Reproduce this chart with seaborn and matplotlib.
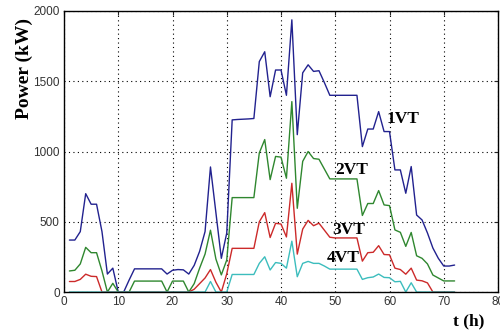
import numpy as np
import pandas as pd
import matplotlib
matplotlib.use("Agg")
import matplotlib.pyplot as plt
import seaborn as sns

# ---- data ----
hours = list(range(1, 73))

p_1vt = [370, 370, 430, 700, 625, 625, 430, 128, 170, 0,
         0, 85, 165, 165, 165, 165, 165, 165, 128, 155,
         160, 158, 128, 190, 290, 430, 890, 565, 240, 420,
         1225, 1228, 1230, 1232, 1235, 1640, 1710, 1390, 1580, 1580,
         1400, 1937, 1120, 1560, 1617, 1570, 1575, 1490, 1400, 1400,
         1400, 1400, 1400, 1400, 1035, 1160, 1160, 1284, 1142, 1142,
         869, 869, 703, 893, 548, 513, 420, 313, 240, 185,
         185, 192]

p_2vt = [150, 155, 200, 318, 280, 280, 150, 0, 62, 0,
         0, 0, 78, 78, 78, 78, 78, 78, 0, 78,
         78, 78, 0, 60, 170, 270, 440, 235, 122, 228,
         672, 672, 672, 672, 672, 990, 1085, 800, 965, 960,
         810, 1355, 596, 930, 1000, 950, 945, 875, 805, 805,
         805, 805, 805, 805, 545, 630, 630, 722, 620, 615,
         442, 425, 325, 424, 258, 240, 200, 121, 100, 79,
         79, 79]

p_3vt = [75, 75, 90, 127, 112, 110, 0, 0, 0, 0,
         0, 0, 0, 0, 0, 0, 0, 0, 0, 0,
         0, 0, 0, 20, 60, 100, 160, 70, 0, 130,
         311, 311, 311, 311, 311, 500, 565, 388, 489, 484,
         392, 774, 270, 448, 510, 472, 490, 440, 390, 385,
         385, 385, 385, 385, 220, 280, 283, 330, 267, 265,
         170, 160, 127, 170, 85, 80, 65, 0, 0, 0,
         0, 0]

p_4vt = [0, 0, 0, 0, 0, 0, 0, 0, 0, 0,
         0, 0, 0, 0, 0, 0, 0, 0, 0, 0,
         0, 0, 0, 0, 0, 0, 75, 0, 0, 0,
         125, 125, 125, 125, 125, 204, 251, 157, 210, 204,
         170, 362, 109, 204, 218, 204, 204, 185, 163, 163,
         163, 163, 163, 163, 90, 102, 107, 128, 104, 102,
         73, 76, 0, 66, 0, 0, 0, 0, 0, 0,
         0, 0]

series_names = ["1VT", "2VT", "3VT", "4VT"]
x_ticks = [0, 10, 20, 30, 40, 50, 60, 70, 80]
y_ticks = [0, 500, 1000, 1500, 2000]

df = pd.DataFrame({
    "t": hours * 4,
    "P": p_1vt + p_2vt + p_3vt + p_4vt,
    "series": sum([[n] * len(hours) for n in series_names], []),
})

palette = {"1VT": "#22228f", "2VT": "#2f872f", "3VT": "#cc2a2a", "4VT": "#3cbdbd"}

sns.set_style("white")
fig = plt.figure(figsize=(5.0, 3.33), dpi=100)
ax = fig.add_axes([0.128, 0.123, 0.868, 0.844])

sns.lineplot(data=df, x="t", y="P", hue="series", palette=palette,
             linewidth=1.0, legend=False, ax=ax, estimator=None, sort=False)

ax.set_xlim(0, 80)
ax.set_ylim(0, 2000)
ax.set_xticks(x_ticks)
ax.set_yticks(y_ticks)
ax.set_xticklabels([str(v) for v in x_ticks])
ax.set_yticklabels([str(v) for v in y_ticks])
ax.set_xlabel("")
ax.set_ylabel("")

ax.grid(True, color="black", linestyle=(0, (1, 3)), linewidth=0.8)
ax.set_axisbelow(True)
for s in ax.spines.values():
    s.set_color("black")
    s.set_linewidth(1.0)
    s.set_zorder(5)

ax.tick_params(axis="both", direction="in", length=3, width=0.8,
               top=True, right=True, labelsize=8.5, labelcolor="#333333",
               pad=3)
for lab in ax.get_xticklabels() + ax.get_yticklabels():
    lab.set_fontfamily("Liberation Sans")

serif = dict(fontfamily="Liberation Serif", fontweight="bold", color="black")
ax.text(59.5, 1232, "1VT", fontsize=12.5, va="center", ha="left", **serif)
ax.text(50.0, 869, "2VT", fontsize=12.5, va="center", ha="left", **serif)
ax.text(49.4, 442, "3VT", fontsize=12.5, va="center", ha="left", **serif)
ax.text(48.4, 242, "4VT", fontsize=12.5, va="center", ha="left", **serif)

fig.text(24 / 500, 1 - 68.5 / 333, "Power (kW)", rotation=90,
         ha="center", va="center", fontsize=14, **serif)
fig.text(469 / 500, 1 - 321.5 / 333, "t (h)", ha="center", va="center",
         fontsize=12.5, **serif)

fig.savefig("out.png", dpi=100)
